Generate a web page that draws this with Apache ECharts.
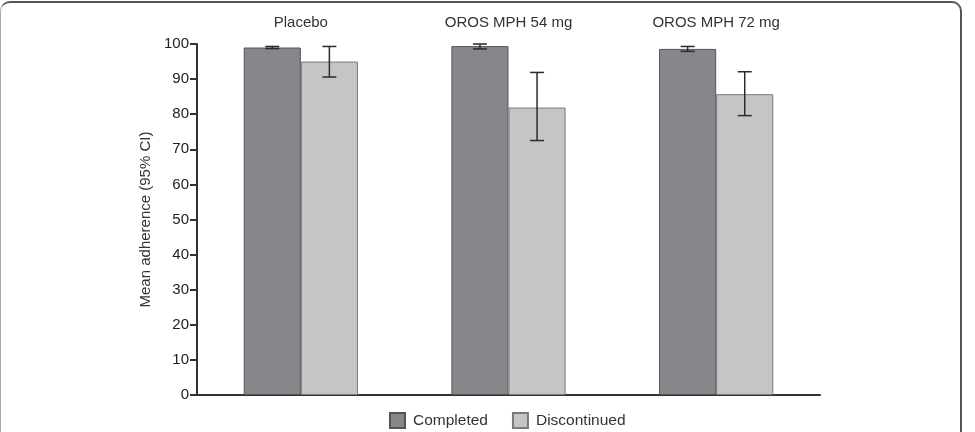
<!DOCTYPE html>
<html>
<head>
<meta charset="utf-8">
<script src="https://cdn.jsdelivr.net/npm/echarts@6/dist/echarts.min.js"></script>
<style>
  html, body { margin: 0; padding: 0; background: #fff; overflow: hidden; }
  .frame {
    position: absolute;
    left: 0; top: 1px;
    width: 959px; height: 520px;
    border-top: 2px solid #555;
    border-right: 2px solid #555;
    border-left: 1px solid #aaa;
    border-radius: 10px;
  }
  #chart { position: absolute; left: 0; top: 0; width: 975px; height: 432px; }
</style>
</head>
<body>
<div class="frame"></div>
<div id="chart"></div>
<script>
const categories = ['Placebo', 'OROS MPH 54 mg', 'OROS MPH 72 mg']
const yTicks = [0, 10, 20, 30, 40, 50, 60, 70, 80, 90, 100]

// mean adherence and 95% CI
const completed = [99.0, 99.4, 98.6]
const completedLow = [98.7, 98.6, 97.9]
const completedHigh = [99.3, 100.0, 99.3]
const discontinued = [95.0, 81.9, 85.7]
const discontinuedLow = [90.6, 72.5, 79.6]
const discontinuedHigh = [99.3, 91.9, 92.1]

const chart = echarts.init(document.getElementById('chart'))
const font = "'Liberation Sans', Arial, sans-serif"
const barRatio = 0.275

// error bar drawn next to its bar (side = -1 left bar, +1 right bar)
const errorBar = (side) => (params, api) => {
  const x = api.value(0)
  const lo = api.coord([x, api.value(1)])
  const hi = api.coord([x, api.value(2)])
  const bw = api.size([1, 0])[0] * barRatio
  const cx = lo[0] + side * bw / 2
  const cap = 7
  const style = { stroke: '#2b2b2b', lineWidth: 1.5 }
  return {
    type: 'group',
    children: [
      { type: 'line', shape: { x1: cx, y1: lo[1], x2: cx, y2: hi[1] }, style },
      { type: 'line', shape: { x1: cx - cap, y1: lo[1], x2: cx + cap, y2: lo[1] }, style },
      { type: 'line', shape: { x1: cx - cap, y1: hi[1], x2: cx + cap, y2: hi[1] }, style }
    ]
  }
}

const option = {
  animation: false,
  textStyle: { fontFamily: font },
  grid: { left: 197, right: 155, top: 44, bottom: 37 },
  legend: {
    bottom: -2,
    left: 384,
    icon: 'rect',
    itemWidth: 15,
    itemHeight: 15,
    itemGap: 24,
    textStyle: { fontSize: 15.5, color: '#333', fontFamily: font, padding: [0, 0, 0, 3] },
    data: ['Completed', 'Discontinued']
  },
  xAxis: [
    {
      type: 'category',
      data: categories,
      axisLine: { lineStyle: { color: '#333', width: 2 } },
      axisTick: { length: 7, lineStyle: { color: '#333', width: 2 } },
      axisLabel: { show: false }
    },
    {
      type: 'category',
      data: categories,
      position: 'top',
      axisLine: { show: false },
      axisTick: { show: false },
      axisLabel: { fontSize: 15, color: '#333', margin: 14 }
    }
  ],
  yAxis: {
    type: 'value',
    min: 0,
    max: 100,
    interval: 10,
    name: 'Mean adherence (95% CI)',
    nameLocation: 'middle',
    nameGap: 41,
    nameTextStyle: { fontSize: 15, color: '#333' },
    axisLine: { show: true, lineStyle: { color: '#333', width: 2 } },
    axisTick: { show: true, length: 7, lineStyle: { color: '#333', width: 2 } },
    axisLabel: { fontSize: 15, color: '#222', margin: 8,
      formatter: (v) => yTicks.includes(v) ? String(v) : '' },
    splitLine: { show: false }
  },
  series: [
    {
      name: 'Completed',
      type: 'bar',
      data: completed,
      barWidth: (barRatio * 100) + '%',
      barGap: '0%',
      itemStyle: { color: '#86878a', borderColor: '#555', borderWidth: 1 }
    },
    {
      name: 'Discontinued',
      type: 'bar',
      data: discontinued,
      barWidth: (barRatio * 100) + '%',
      barGap: '0%',
      itemStyle: { color: '#c4c5c7', borderColor: '#7a7a7a', borderWidth: 1 }
    },
    {
      type: 'custom',
      renderItem: errorBar(-1),
      data: completed.map((v, i) => [i, completedLow[i], completedHigh[i]]),
      z: 10,
      silent: true
    },
    {
      type: 'custom',
      renderItem: errorBar(1),
      data: discontinued.map((v, i) => [i, discontinuedLow[i], discontinuedHigh[i]]),
      z: 10,
      silent: true
    }
  ]
}

chart.setOption(option)
</script>
</body>
</html>
